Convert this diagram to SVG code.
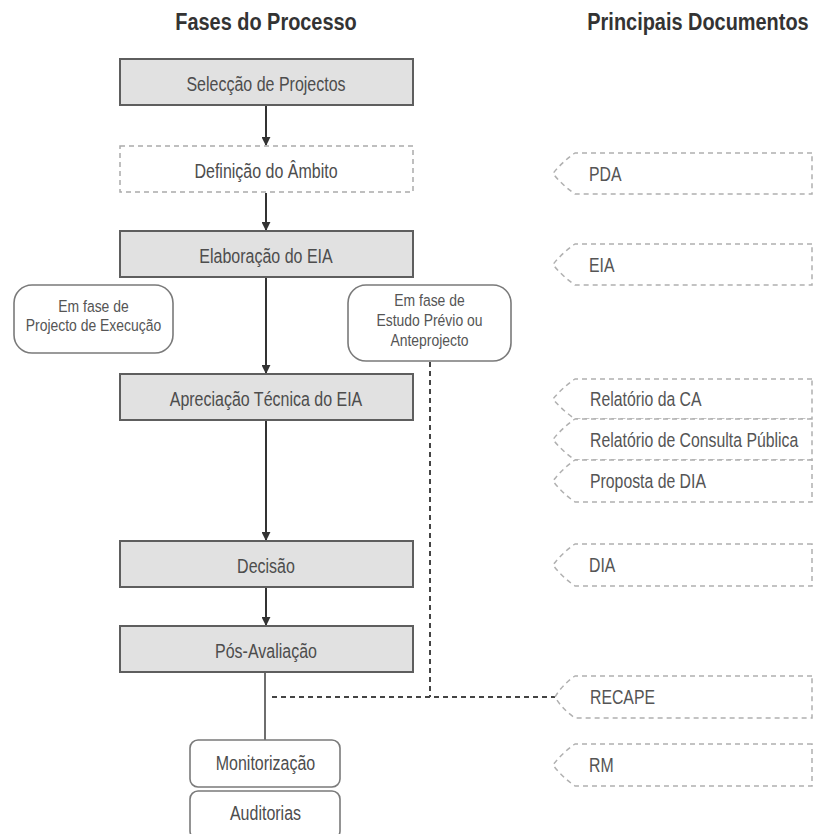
<svg xmlns="http://www.w3.org/2000/svg" width="815" height="834" viewBox="0 0 815 834">
<defs>
<style>
text{font-family:"Liberation Sans",Arial,sans-serif;fill:#555;}
.title{font-size:24px;font-weight:bold;fill:#333;text-anchor:middle;}
.phase{font-size:19.5px;text-anchor:middle;fill:#4d4d4d;}
.note{font-size:17px;text-anchor:middle;fill:#555;}
.doc{font-size:19.3px;fill:#555;}
.box{fill:#e1e1e1;stroke:#5e5e5e;stroke-width:2;}
.dbox{fill:#fff;stroke:#ababab;stroke-width:1.5;stroke-dasharray:5 4;}
.rbox{fill:#fff;stroke:#7a7a7a;stroke-width:1.6;}
.docs{fill:#fff;stroke:#b0b0b0;stroke-width:1.5;stroke-dasharray:5 4;}
.arrow{stroke:#333;stroke-width:2;fill:none;marker-end:url(#ah);}
.dot{stroke:#444;stroke-width:2;fill:none;stroke-dasharray:5 4;}
.plain{stroke:#6e6e6e;stroke-width:2;fill:none;}
</style>
<marker id="ah" viewBox="0 0 10 10" refX="9" refY="5" markerWidth="4.5" markerHeight="4.5" orient="auto" markerUnits="strokeWidth">
<path d="M0,0 L10,5 L0,10 Z" fill="#333"/>
</marker>
</defs>
<rect width="815" height="834" fill="#fff"/>

<g id="titles">
<text class="title" transform="translate(266,30) scale(0.83,1)">Fases do Processo</text>
<text class="title" transform="translate(698,30) scale(0.83,1)">Principais Documentos</text>
</g>

<g id="connectors">
<line class="arrow" x1="266" y1="106" x2="266" y2="145"/>
<line class="arrow" x1="266" y1="193" x2="266" y2="230"/>
<line class="arrow" x1="266" y1="277" x2="266" y2="373"/>
<line class="arrow" x1="266" y1="421" x2="266" y2="540"/>
<line class="arrow" x1="266" y1="587" x2="266" y2="625"/>
<line class="plain" x1="265" y1="673" x2="265" y2="740"/>
<path class="dot" d="M430,362 V697"/>
<path class="dot" d="M272,697 H555"/>
</g>

<g id="n-seleccao">
<rect class="box" x="120" y="59" width="293" height="46"/>
<text class="phase" transform="translate(266,91) scale(0.82,1)">Selecção de Projectos</text>
</g>
<g id="n-definicao">
<rect class="dbox" x="120" y="146" width="293" height="46"/>
<text class="phase" transform="translate(266,178) scale(0.82,1)">Definição do Âmbito</text>
</g>
<g id="n-elaboracao">
<rect class="box" x="120" y="231" width="293" height="46"/>
<text class="phase" transform="translate(266,263) scale(0.82,1)">Elaboração do EIA</text>
</g>
<g id="n-execucao">
<rect class="rbox" x="14" y="285" width="159" height="68" rx="18" ry="18"/>
<text class="note" transform="translate(93.5,312) scale(0.82,1)">Em fase de</text>
<text class="note" transform="translate(93.5,331) scale(0.82,1)">Projecto de Execução</text>
</g>
<g id="n-estudo">
<rect class="rbox" x="348" y="285" width="163" height="76" rx="18" ry="18"/>
<text class="note" transform="translate(429.5,306) scale(0.82,1)">Em fase de</text>
<text class="note" transform="translate(429.5,326) scale(0.82,1)">Estudo Prévio ou</text>
<text class="note" transform="translate(429.5,346) scale(0.82,1)">Anteprojecto</text>
</g>
<g id="n-apreciacao">
<rect class="box" x="120" y="374" width="293" height="46"/>
<text class="phase" transform="translate(266,406) scale(0.82,1)">Apreciação Técnica do EIA</text>
</g>
<g id="n-decisao">
<rect class="box" x="120" y="541" width="293" height="46"/>
<text class="phase" transform="translate(266,573) scale(0.82,1)">Decisão</text>
</g>
<g id="n-pos">
<rect class="box" x="120" y="626" width="293" height="46"/>
<text class="phase" transform="translate(266,658) scale(0.82,1)">Pós-Avaliação</text>
</g>
<g id="n-monitorizacao">
<rect class="rbox" x="190" y="740" width="150" height="47" rx="8" ry="8"/>
<text class="phase" transform="translate(265.5,770) scale(0.82,1)">Monitorização</text>
</g>
<g id="n-auditorias">
<rect class="rbox" x="190" y="791" width="150" height="48" rx="8" ry="8"/>
<text class="phase" transform="translate(265.5,820) scale(0.82,1)">Auditorias</text>
</g>

<g id="d-pda">
<path class="docs" d="M812,153 H575 Q562,162 553,173.5 Q562,185 575,194 H812 Z"/>
<text class="doc" transform="translate(589,181) scale(0.82,1)">PDA</text>
</g>
<g id="d-eia">
<path class="docs" d="M812,244 H575 Q562,253 553,264.5 Q562,276 575,285 H812 Z"/>
<text class="doc" transform="translate(589,272) scale(0.82,1)">EIA</text>
</g>
<g id="d-ca">
<path class="docs" d="M812,379 H575 Q562,388 553,399 Q562,410 575,419 H812 Z"/>
<text class="doc" transform="translate(590,406) scale(0.82,1)">Relatório da CA</text>
</g>
<g id="d-consulta">
<path class="docs" d="M812,419 H575 Q562,428 553,439.5 Q562,451 575,460 H812 Z"/>
<text class="doc" transform="translate(590,447) scale(0.82,1)">Relatório de Consulta Pública</text>
</g>
<g id="d-proposta">
<path class="docs" d="M812,460 H575 Q562,469 553,481 Q562,493 575,502 H812 Z"/>
<text class="doc" transform="translate(590,488) scale(0.82,1)">Proposta de DIA</text>
</g>
<g id="d-dia">
<path class="docs" d="M812,544 H575 Q562,553 553,565 Q562,577 575,586 H812 Z"/>
<text class="doc" transform="translate(589,572) scale(0.82,1)">DIA</text>
</g>
<g id="d-recape">
<path class="docs" d="M812,676 H575 Q562,685 555,697 Q562,709 575,718 H812 Z"/>
<text class="doc" transform="translate(590,704) scale(0.82,1)">RECAPE</text>
</g>
<g id="d-rm">
<path class="docs" d="M812,744 H575 Q562,753 553,765 Q562,777 575,786 H812 Z"/>
<text class="doc" transform="translate(589,772) scale(0.82,1)">RM</text>
</g>
</svg>
